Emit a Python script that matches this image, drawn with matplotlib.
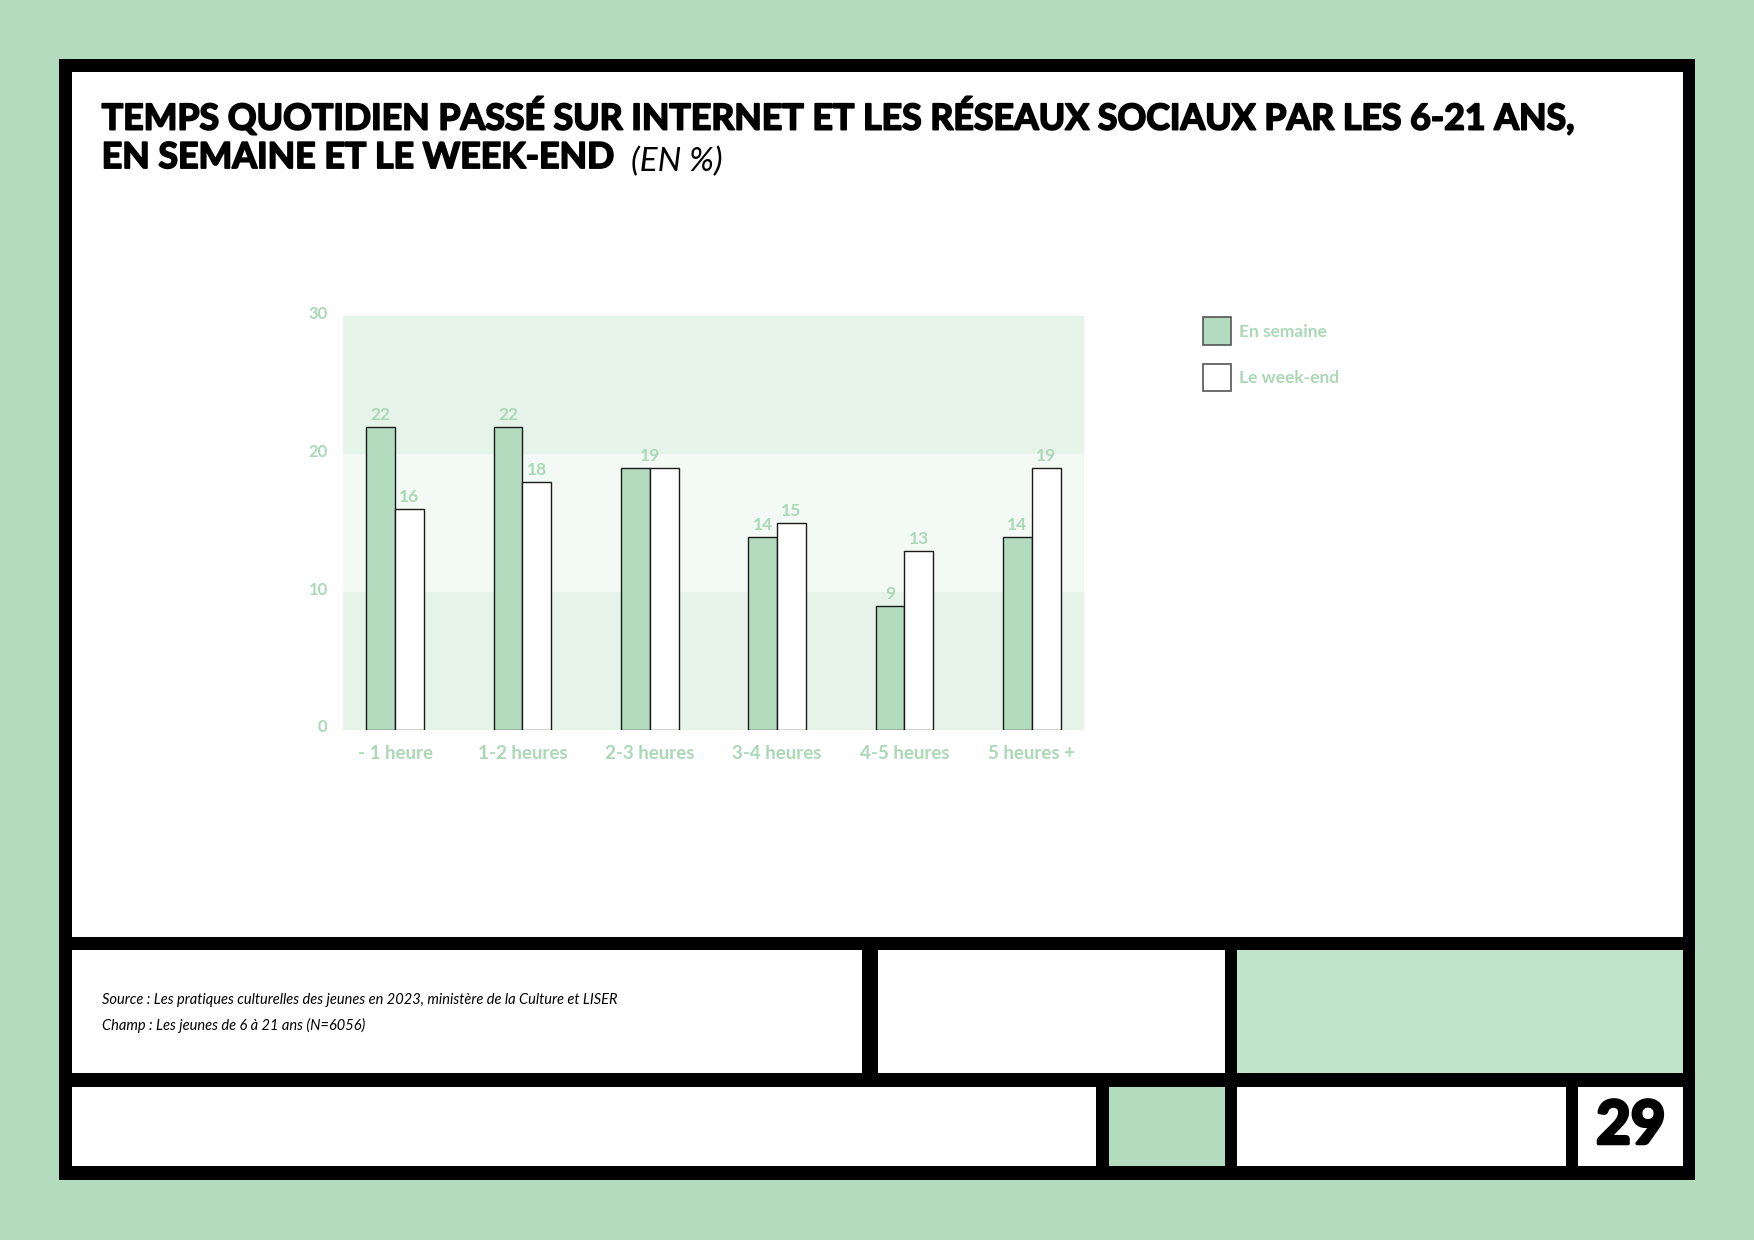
"""
Temps quotidien passé sur internet et les réseaux sociaux par les 6-21 ans.

Bar chart comparing weekdays and week-ends, laid out like the report page
(green background, black frame, footer cells and page number).

Usage:
    python plot.py
"""
import matplotlib
matplotlib.use("Agg")
import matplotlib.pyplot as plt
import matplotlib.patheffects as pe
from matplotlib.patches import Rectangle
from matplotlib.transforms import ScaledTranslation

# --- data -----------------------------------------------------------------
CATEGORIES = ["- 1 heure", "1-2 heures", "2-3 heures", "3-4 heures", "4-5 heures", "5 heures +"]
EN_SEMAINE = [22, 22, 19, 14, 9, 14]
WEEK_END = [16, 18, 19, 15, 13, 19]
SERIES_NAMES = ["En semaine", "Le week-end"]
Y_TICKS = [0, 10, 20, 30]

TITLE_LINE_1 = "TEMPS QUOTIDIEN PASSÉ SUR INTERNET ET LES RÉSEAUX SOCIAUX PAR LES 6-21 ANS,"
TITLE_LINE_2 = "EN SEMAINE ET LE WEEK-END"
TITLE_UNIT = "(EN %)"
SOURCE = "Source : Les pratiques culturelles des jeunes en 2023, ministère de la Culture et LISER"
CHAMP = "Champ : Les jeunes de 6 à 21 ans (N=6056)"
PAGE = "29"

# --- style ----------------------------------------------------------------
BG_GREEN = "#b3dcbe"
CELL_GREEN = "#c1e3c9"
BAR_GREEN = "#b3dcbf"
LABEL_GREEN = "#abd8b7"
BAND_DARK = "#e5f3e8"
BAND_LIGHT = "#f3f9f4"
FONT = ["Lato", "DejaVu Sans"]
HEAVY = [pe.withStroke(linewidth=1.3, foreground="black")]

plt.rcParams["font.family"] = FONT


def draw_page(fig):
    """Frame, white panels and footer cells (figure fractions)."""
    def box(x0, x1, y0, y1, color):
        fig.patches.append(Rectangle((x0, y0), x1 - x0, y1 - y0,
                                     transform=fig.transFigure,
                                     facecolor=color, edgecolor="none", zorder=-5))

    box(0.0338, 0.9662, 0.0487, 0.9522, "black")
    box(0.0408, 0.9598, 0.2444, 0.9423, "white")
    # row 1
    box(0.0408, 0.4917, 0.1344, 0.2335, "white")
    box(0.5006, 0.6983, 0.1344, 0.2335, "white")
    box(0.7054, 0.9598, 0.1344, 0.2335, CELL_GREEN)
    # row 2
    box(0.0408, 0.6250, 0.0595, 0.1235, "white")
    box(0.6320, 0.6983, 0.0595, 0.1235, BG_GREEN)
    box(0.7054, 0.8929, 0.0595, 0.1235, "white")
    box(0.8999, 0.9598, 0.0595, 0.1235, "white")


def draw_texts(fig):
    """Title, source lines and page number."""
    fig.text(0.058, 0.8955, TITLE_LINE_1, fontsize=25.7, fontweight="bold",
             va="baseline", ha="left", path_effects=HEAVY)
    t2 = fig.text(0.058, 0.8645, TITLE_LINE_2, fontsize=25.7, fontweight="bold",
                  va="baseline", ha="left", path_effects=HEAVY)
    fig.add_artist(plt.Annotation(TITLE_UNIT, xy=(1, 0), xycoords=t2,
                                  xytext=(13, -2), textcoords="offset points",
                                  fontsize=24, fontstyle="italic", fontweight="normal",
                                  color="black", va="bottom", ha="left"))
    fig.text(0.058, 0.1939, SOURCE, fontsize=10.5, fontstyle="italic",
             fontweight="normal", color="black", va="center")
    fig.text(0.058, 0.1731, CHAMP, fontsize=10.5, fontstyle="italic",
             fontweight="normal", color="black", va="center")
    fig.text(0.9298, 0.0915, PAGE, fontsize=43, fontweight="bold",
             ha="center", va="center", path_effects=[pe.withStroke(linewidth=2.5, foreground="black")])


def plot_bars(fig):
    """Grouped bars on banded background."""
    ax = fig.add_axes([0.1955, 0.4112, 0.4225, 0.3336])
    ax.set_facecolor("none")
    bands = [BAND_DARK, BAND_LIGHT, BAND_DARK]
    for lo, hi, c in zip(Y_TICKS[:-1], Y_TICKS[1:], bands):
        ax.axhspan(lo, hi, color=c, lw=0, zorder=0)

    x = list(range(len(CATEGORIES)))
    w = 0.226
    b1 = ax.bar([i - w / 2 for i in x], EN_SEMAINE, w, color=BAR_GREEN,
                edgecolor="#1a1a1a", linewidth=1, zorder=2, label=SERIES_NAMES[0])
    b2 = ax.bar([i + w / 2 for i in x], WEEK_END, w, color="white",
                edgecolor="#1a1a1a", linewidth=1, zorder=2, label=SERIES_NAMES[1])

    lab_kw = dict(color=LABEL_GREEN, fontsize=12.5, fontweight="bold", padding=3)
    same = [a == b for a, b in zip(EN_SEMAINE, WEEK_END)]
    ax.bar_label(b1, labels=["" if s else str(v) for s, v in zip(same, EN_SEMAINE)], **lab_kw)
    ax.bar_label(b2, labels=["" if s else str(v) for s, v in zip(same, WEEK_END)], **lab_kw)
    for i, s in enumerate(same):
        if s:
            ax.annotate(str(EN_SEMAINE[i]), xy=(i, EN_SEMAINE[i]), xytext=(0, 3),
                        textcoords="offset points", ha="center", va="bottom",
                        color=LABEL_GREEN, fontsize=12.5, fontweight="bold")

    ax.set_xlim(-0.41, len(CATEGORIES) - 1 + 0.41)
    ax.set_ylim(Y_TICKS[0], Y_TICKS[-1])
    ax.set_xticks(x)
    ax.set_xticklabels(CATEGORIES)
    ax.set_yticks(Y_TICKS)
    ax.tick_params(length=0)
    ax.tick_params(axis="x", pad=11, labelsize=13.5, labelcolor=LABEL_GREEN)
    ax.tick_params(axis="y", pad=11, labelsize=12, labelcolor=LABEL_GREEN)
    for lbl in ax.get_xticklabels() + ax.get_yticklabels():
        lbl.set_fontweight("bold")
    for lbl in ax.get_yticklabels():
        lbl.set_transform(lbl.get_transform() + ScaledTranslation(0, 3 / 72, fig.dpi_scale_trans))
    for sp in ax.spines.values():
        sp.set_visible(False)

    leg = fig.legend(handles=[b1, b2], loc="upper left", bbox_to_anchor=(0.686, 0.7440),
                     frameon=False, borderpad=0, borderaxespad=0, fontsize=12.5,
                     handlelength=1.58, handleheight=2.05, handletextpad=0.5,
                     labelspacing=1.1)
    for txt in leg.get_texts():
        txt.set_color(LABEL_GREEN)
        txt.set_fontweight("bold")
    for h in leg.legend_handles:
        h.set_edgecolor("#555555")
        h.set_linewidth(1.2)
    return ax


def main():
    fig = plt.figure(figsize=(17.54, 12.40), dpi=100, facecolor=BG_GREEN)
    draw_page(fig)
    draw_texts(fig)
    plot_bars(fig)
    fig.savefig("out.png", dpi=100, facecolor=BG_GREEN)


if __name__ == "__main__":
    main()
